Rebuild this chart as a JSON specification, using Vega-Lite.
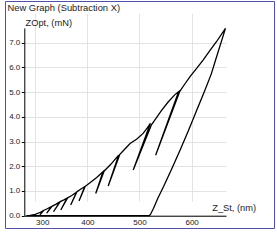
{
  "$schema": "https://vega.github.io/schema/vega-lite/v6.json",
  "width": 269,
  "height": 227,
  "autosize": {"type": "none"},
  "padding": {"left": 5, "top": 1, "right": 3, "bottom": 19},
  "background": "white",
  "title": {"text": "New Graph (Subtraction X)", "anchor": "start", "frame": "group", "orient": "top", "offset": -12.5, "dx": 2.5, "font": "Liberation Sans", "fontSize": 9.4, "fontWeight": "normal", "color": "#222"},
  "config": {
    "view": {"stroke": "#5050a8", "strokeWidth": 1}
  },
  "data": {"values": [
    {"i": 1, "z_st": 283, "zopt": 0},
    {"i": 2, "z_st": 290, "zopt": 0.01},
    {"i": 3, "z_st": 300, "zopt": 0.05},
    {"i": 4, "z_st": 310, "zopt": 0.14},
    {"i": 5, "z_st": 315, "zopt": 0.2},
    {"i": 6, "z_st": 309, "zopt": 0.03},
    {"i": 7, "z_st": 316, "zopt": 0.21},
    {"i": 8, "z_st": 323, "zopt": 0.28},
    {"i": 9, "z_st": 331, "zopt": 0.37},
    {"i": 10, "z_st": 322, "zopt": 0.1},
    {"i": 11, "z_st": 332, "zopt": 0.38},
    {"i": 12, "z_st": 340, "zopt": 0.47},
    {"i": 13, "z_st": 347, "zopt": 0.56},
    {"i": 14, "z_st": 335, "zopt": 0.16},
    {"i": 15, "z_st": 348, "zopt": 0.57},
    {"i": 16, "z_st": 355, "zopt": 0.64},
    {"i": 17, "z_st": 361, "zopt": 0.71},
    {"i": 18, "z_st": 349, "zopt": 0.23},
    {"i": 19, "z_st": 362, "zopt": 0.72},
    {"i": 20, "z_st": 370, "zopt": 0.82},
    {"i": 21, "z_st": 379, "zopt": 0.95},
    {"i": 22, "z_st": 368, "zopt": 0.43},
    {"i": 23, "z_st": 380, "zopt": 0.97},
    {"i": 24, "z_st": 387, "zopt": 1.07},
    {"i": 25, "z_st": 395, "zopt": 1.18},
    {"i": 26, "z_st": 384, "zopt": 0.6},
    {"i": 27, "z_st": 396, "zopt": 1.19},
    {"i": 28, "z_st": 405, "zopt": 1.33},
    {"i": 29, "z_st": 418, "zopt": 1.55},
    {"i": 30, "z_st": 430, "zopt": 1.78},
    {"i": 31, "z_st": 416, "zopt": 0.9},
    {"i": 32, "z_st": 432, "zopt": 1.8},
    {"i": 33, "z_st": 445, "zopt": 2.08},
    {"i": 34, "z_st": 460, "zopt": 2.45},
    {"i": 35, "z_st": 440, "zopt": 1.2},
    {"i": 36, "z_st": 462, "zopt": 2.47},
    {"i": 37, "z_st": 472, "zopt": 2.7},
    {"i": 38, "z_st": 482, "zopt": 2.92},
    {"i": 39, "z_st": 495, "zopt": 3.1},
    {"i": 40, "z_st": 507, "zopt": 3.33},
    {"i": 41, "z_st": 515, "zopt": 3.55},
    {"i": 42, "z_st": 521, "zopt": 3.74},
    {"i": 43, "z_st": 488, "zopt": 1.85},
    {"i": 44, "z_st": 523, "zopt": 3.68},
    {"i": 45, "z_st": 532, "zopt": 3.95},
    {"i": 46, "z_st": 542, "zopt": 4.25},
    {"i": 47, "z_st": 555, "zopt": 4.6},
    {"i": 48, "z_st": 568, "zopt": 4.9},
    {"i": 49, "z_st": 575, "zopt": 5.02},
    {"i": 50, "z_st": 531, "zopt": 2.45},
    {"i": 51, "z_st": 577, "zopt": 5.02},
    {"i": 52, "z_st": 587, "zopt": 5.33},
    {"i": 53, "z_st": 597, "zopt": 5.63},
    {"i": 54, "z_st": 610, "zopt": 5.97},
    {"i": 55, "z_st": 622, "zopt": 6.3},
    {"i": 56, "z_st": 635, "zopt": 6.68},
    {"i": 57, "z_st": 648, "zopt": 7.05},
    {"i": 58, "z_st": 665, "zopt": 7.58},
    {"i": 59, "z_st": 646, "zopt": 6.3},
    {"i": 60, "z_st": 638, "zopt": 5.75},
    {"i": 61, "z_st": 624, "zopt": 5.0},
    {"i": 62, "z_st": 610, "zopt": 4.28},
    {"i": 63, "z_st": 594, "zopt": 3.45},
    {"i": 64, "z_st": 578, "zopt": 2.66},
    {"i": 65, "z_st": 562, "zopt": 1.9},
    {"i": 66, "z_st": 546, "zopt": 1.17},
    {"i": 67, "z_st": 535, "zopt": 0.7},
    {"i": 68, "z_st": 527, "zopt": 0.3},
    {"i": 69, "z_st": 521, "zopt": 0.05},
    {"i": 70, "z_st": 519, "zopt": 0},
    {"i": 71, "z_st": 283, "zopt": 0}
  ]},
  "mark": {"type": "line", "color": "black", "strokeWidth": 1.3},
  "encoding": {
    "x": {
      "field": "z_st", "type": "quantitative",
      "scale": {"domain": [279, 666], "range": [19.3, 221], "nice": false, "zero": false},
      "axis": {
        "title": "Z_St, (nm)", "values": [300, 400, 500, 600], "format": "d",
        "offset": -12.3, "ticks": false, "labelPadding": 3,
        "labelOffset": {"condition": {"test": "datum.value === 300", "value": 7}, "value": 0},
        "labelFont": "Liberation Sans", "labelFontSize": 8, "labelColor": "#222",
        "labelFlush": false, "labelOverlap": false,
        "domainColor": "black", "domainWidth": 1,
        "grid": true, "gridColor": "#e3e3e3", "gridWidth": 1,
        "titleX": 206.7, "titleY": -8.2, "titleAlign": "left", "titleBaseline": "middle",
        "titleFont": "Liberation Sans", "titleFontSize": 9.3, "titleFontWeight": "normal", "titleColor": "#222"
      }
    },
    "y": {
      "field": "zopt", "type": "quantitative",
      "scale": {"domain": [0, 7.6], "range": [214.7, 26.9], "nice": false, "zero": false},
      "axis": {
        "title": "ZOpt, (mN)", "values": [0, 1, 2, 3, 4, 5, 6, 7], "format": ".1f",
        "offset": -19.3, "tickSize": 3, "tickColor": "black", "labelPadding": 1.5,
        "labelFont": "Liberation Sans", "labelFontSize": 8, "labelColor": "#222",
        "labelFlush": false, "labelOverlap": false,
        "domainColor": "black", "domainWidth": 1,
        "grid": true, "gridColor": "#e3e3e3", "gridWidth": 1,
        "titleAngle": 0, "titleX": 0.7, "titleY": 21, "titleAlign": "left", "titleBaseline": "middle",
        "titleFont": "Liberation Sans", "titleFontSize": 9.3, "titleFontWeight": "normal", "titleColor": "#222"
      }
    },
    "order": {"field": "i", "type": "quantitative"}
  }
}
